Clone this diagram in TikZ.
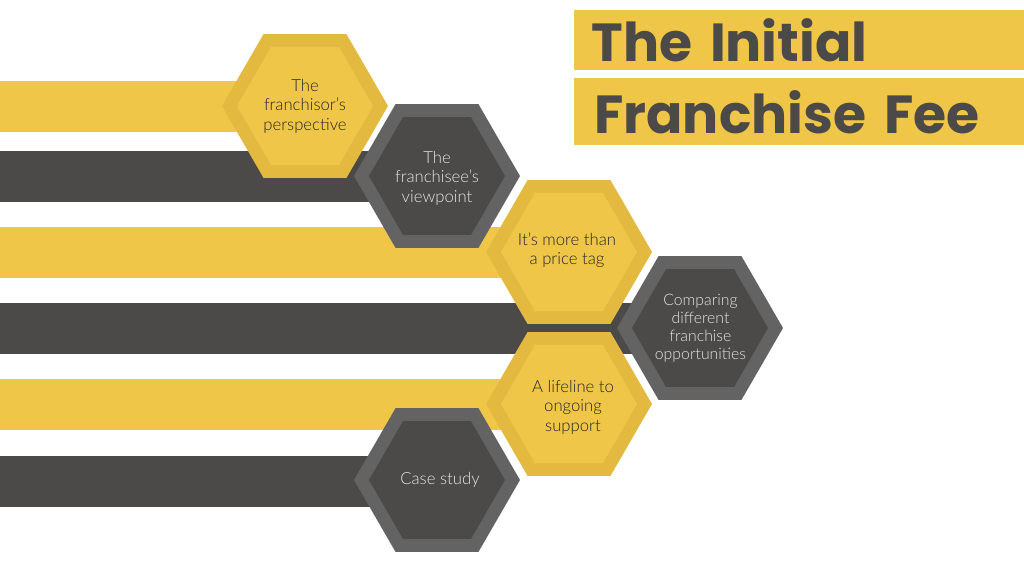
\documentclass[tikz,border=0pt]{standalone}
\usepackage{fontspec}
\setmainfont{Lato Light}[BoldFont={Poppins Bold}]
\usepackage{tikz}
\usetikzlibrary{shapes.geometric,backgrounds}
\definecolor{honey}{HTML}{F0C648}
\definecolor{honeyrim}{HTML}{E3B940}
\definecolor{coal}{HTML}{4B4A49}
\definecolor{coalrim}{HTML}{636363}
\tikzset{
  hexrim/.style={regular polygon, regular polygon sides=6, minimum size=3.32cm, inner sep=0pt},
  hexcore/.style={regular polygon, regular polygon sides=6, minimum size=2.72cm, inner sep=0pt},
  hexlabel/.style={align=center, inner sep=0pt, font=\fontsize{9.5pt}{11.1pt}\selectfont},
  bar/.style={line width=1.02cm},
  titlebar/.style={fill=honey, anchor=north west, minimum width=9cm, text width=8.6cm,
    inner xsep=0.4cm, inner ysep=0pt, text=coal, font=\fontsize{30.5pt}{30.5pt}\selectfont\bfseries}
}
\begin{document}
\begin{tikzpicture}[x=0.02cm,y=-0.02cm]
  \useasboundingbox (0,0) rectangle (1024,576);
  \node[titlebar, minimum height=1.2cm] (titleone) at (574,10) {\kern-1.7pt The Initial};
  \node[titlebar, minimum height=1.34cm] (titletwo) at (574,78) {Franchise Fee};

  \node[hexrim, fill=honeyrim] (rimone) at (305,106) {};
  \node[hexcore, fill=honey] (hexone) at (305,106) {};
  \node[hexlabel, text=black!85] (textone) at (305,106) {The\\franchisor's\\perspective};
  \node[hexrim, fill=coalrim] (rimtwo) at (437,176) {};
  \node[hexcore, fill=coal] (hextwo) at (437,176) {};
  \node[hexlabel, text=white!90!black] (texttwo) at (437,178) {The\\franchisee's\\viewpoint};
  \node[hexrim, fill=honeyrim] (rimthree) at (569,252) {};
  \node[hexcore, fill=honey] (hexthree) at (569,252) {};
  \node[hexlabel, text=black!85] (textthree) at (567,250) {It's more than\\a price tag};
  \node[hexrim, fill=coalrim] (rimfour) at (700,328) {};
  \node[hexcore, fill=coal] (hexfour) at (700,328) {};
  \node[hexlabel, text=white!90!black, font=\fontsize{9pt}{10.3pt}\selectfont] (textfour) at (700.5,328) {Comparing\\different\\franchise\\opportunities};
  \node[hexrim, fill=honeyrim] (rimfive) at (569,404) {};
  \node[hexcore, fill=honey] (hexfive) at (569,404) {};
  \node[hexlabel, text=black!85] (textfive) at (573,407) {A lifeline to\\ongoing\\support};
  \node[hexrim, fill=coalrim] (rimsix) at (437,480) {};
  \node[hexcore, fill=coal] (hexsix) at (437,480) {};
  \node[hexlabel, text=white!90!black] (textsix) at (440,480) {Case study};

  \coordinate (startone) at (0,106.5);
  \coordinate (starttwo) at (0,176.5);
  \coordinate (startthree) at (0,252.5);
  \coordinate (startfour) at (0,328.5);
  \coordinate (startfive) at (0,404.5);
  \coordinate (startsix) at (0,481.5);
  \begin{scope}[on background layer]
    \draw[bar, honey] (startone)--(startone-|rimone.center);
    \draw[bar, coal] (starttwo)--(starttwo-|rimtwo.center);
    \draw[bar, honey] (startthree)--(startthree-|rimthree.center);
    \draw[bar, coal] (startfour)--(startfour-|rimfour.center);
    \draw[bar, honey] (startfive)--(startfive-|rimfive.center);
    \draw[bar, coal] (startsix)--(startsix-|rimsix.center);
  \end{scope}
\end{tikzpicture}
\end{document}
